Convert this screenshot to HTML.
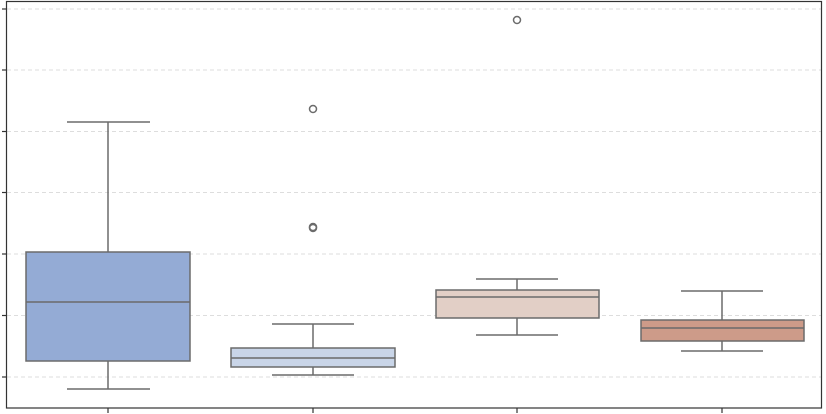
<!DOCTYPE html>
<html><head><style>html,body{margin:0;padding:0;background:#fff;width:826px;height:414px;overflow:hidden}</style></head>
<body>
<svg width="826" height="414" xmlns="http://www.w3.org/2000/svg">
<g stroke="#ddd" stroke-width="1" stroke-dasharray="4,3">
<line x1="7" x2="821" y1="9" y2="9"/><line x1="7" x2="821" y1="70" y2="70"/><line x1="7" x2="821" y1="131.5" y2="131.5"/><line x1="7" x2="821" y1="192.5" y2="192.5"/><line x1="7" x2="821" y1="254" y2="254"/><line x1="7" x2="821" y1="315.5" y2="315.5"/><line x1="7" x2="821" y1="377" y2="377"/>
</g>
<g stroke="#333" stroke-width="1.2">
<line x1="2" x2="6" y1="9" y2="9"/><line x1="2" x2="6" y1="70" y2="70"/><line x1="2" x2="6" y1="131.5" y2="131.5"/><line x1="2" x2="6" y1="192.5" y2="192.5"/><line x1="2" x2="6" y1="254" y2="254"/><line x1="2" x2="6" y1="315.5" y2="315.5"/><line x1="2" x2="6" y1="377" y2="377"/>
<line x1="108" x2="108" y1="408" y2="413"/><line x1="313" x2="313" y1="408" y2="413"/><line x1="517" x2="517" y1="408" y2="413"/><line x1="722" x2="722" y1="408" y2="413"/>
</g>
<rect x="6.5" y="1.5" width="815" height="406.5" fill="none" stroke="#333" stroke-width="1.2"/>
<g stroke="#6b6b6b" stroke-width="1.5">
<line x1="108" x2="108" y1="122" y2="252"/><line x1="108" x2="108" y1="361" y2="389"/><line x1="67" x2="150" y1="122" y2="122"/><line x1="67" x2="150" y1="389" y2="389"/>
<rect x="26" y="252" width="164" height="109" fill="#94abd5"/><line x1="26" x2="190" y1="302" y2="302"/>
<line x1="313" x2="313" y1="324" y2="348"/><line x1="313" x2="313" y1="367" y2="375"/><line x1="272" x2="354" y1="324" y2="324"/><line x1="272" x2="354" y1="375" y2="375"/>
<rect x="231" y="348" width="164" height="19" fill="#c9d5e8"/><line x1="231" x2="395" y1="358" y2="358"/>
<circle cx="313" cy="109" r="3.5" fill="none"/><circle cx="313" cy="227" r="3.5" fill="none"/><circle cx="313" cy="228" r="3.5" fill="none"/>
<line x1="517" x2="517" y1="279" y2="290"/><line x1="517" x2="517" y1="318" y2="335"/><line x1="476" x2="558" y1="279" y2="279"/><line x1="476" x2="558" y1="335" y2="335"/>
<rect x="436" y="290" width="163" height="28" fill="#e2cfc6"/><line x1="436" x2="599" y1="297" y2="297"/>
<circle cx="517" cy="20" r="3.5" fill="none"/>
<line x1="722" x2="722" y1="291" y2="320"/><line x1="722" x2="722" y1="341" y2="351"/><line x1="681" x2="763" y1="291" y2="291"/><line x1="681" x2="763" y1="351" y2="351"/>
<rect x="641" y="320" width="163" height="21" fill="#cd9b89"/><line x1="641" x2="804" y1="328" y2="328"/>
</g>
</svg>
</body></html>
